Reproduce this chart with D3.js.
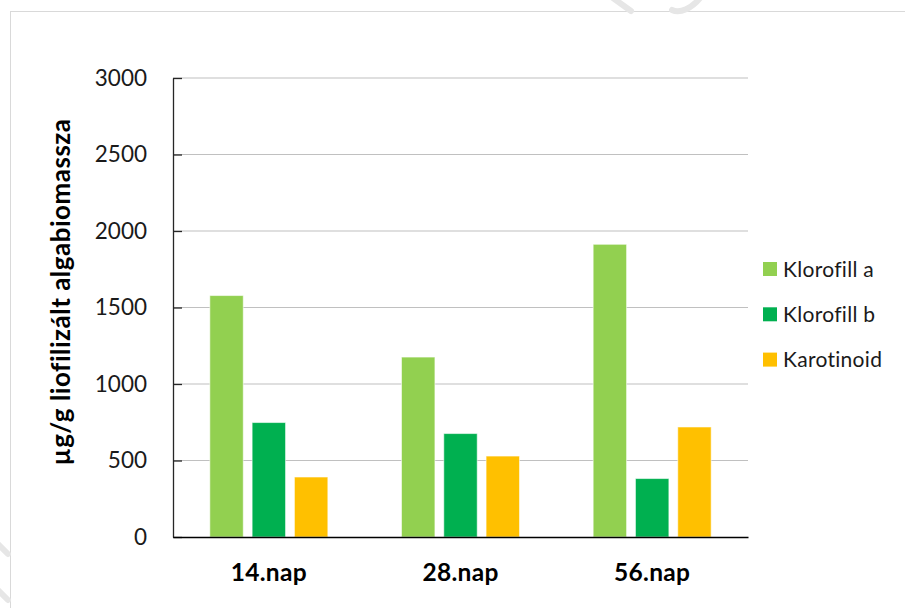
<!DOCTYPE html>
<html>
<head>
<meta charset="utf-8">
<script src="https://cdn.jsdelivr.net/npm/d3@7"></script>
<style>
  html, body { margin: 0; padding: 0; background: #fff; }
  svg { display: block; font-family: Lato, "Open Sans", sans-serif; }
</style>
</head>
<body>
<svg id="chart" width="905" height="608"></svg>
<script>
// Sampling days and pigment content (µg/g freeze-dried algal biomass)
const categories = ["14.nap", "28.nap", "56.nap"];
const seriesNames = ["Klorofill a", "Klorofill b", "Karotinoid"];
const klorofillA = [1578, 1176, 1913];
const klorofillB = [748, 676, 382];
const karotinoid = [392, 529, 719];
const yTicks = [0, 500, 1000, 1500, 2000, 2500, 3000];
const seriesColors = ["#92D050", "#00B050", "#FFC000"];

const seriesValues = [klorofillA, klorofillB, karotinoid];
const rows = categories.map((c, i) => ({
  cat: c,
  vals: seriesNames.map((s, j) => ({ series: s, value: seriesValues[j][i], color: seriesColors[j] }))
}));

const svg = d3.select("#chart");

// outer chart frame
svg.append("rect")
  .attr("x", 10.5).attr("y", 11.5)
  .attr("width", 1000).attr("height", 1000)
  .attr("fill", "none").attr("stroke", "#d9d9d9").attr("stroke-width", 1);

// faint watermark fragments along the edges
const wm = svg.append("g").attr("fill", "none").attr("stroke", "#e6e6e6")
  .attr("stroke-width", 6).attr("stroke-linecap", "round");
wm.append("path").attr("d", "M613,-2 L631,11");
wm.append("path").attr("d", "M672,10 C680,14 692,8 700,-2");
wm.append("path").attr("d", "M-2,544 L8,554");
wm.append("path").attr("d", "M-2,590 L8,600");

const plot = { left: 173, right: 748, top: 78, bottom: 537 };

const x = d3.scaleBand().domain(categories).range([plot.left, plot.right]);
const groupWidth = 118;
const xSub = d3.scaleBand().domain(seriesNames).range([0, groupWidth]).paddingInner(0.21);
const y = d3.scaleLinear().domain([0, 3000]).range([plot.bottom, plot.top]);

// horizontal gridlines
svg.append("g")
  .selectAll("line")
  .data(yTicks.filter(t => t > 0))
  .join("line")
  .attr("x1", plot.left).attr("x2", plot.right)
  .attr("y1", d => y(d)).attr("y2", d => y(d))
  .attr("stroke", "#c0c0c0").attr("stroke-width", 1.2);

// bars
const groups = svg.append("g")
  .selectAll("g")
  .data(rows)
  .join("g")
  .attr("transform", d => `translate(${x(d.cat) + (x.bandwidth() - groupWidth) / 2},0)`);

groups.selectAll("rect")
  .data(d => d.vals)
  .join("rect")
  .attr("x", d => xSub(d.series))
  .attr("width", xSub.bandwidth())
  .attr("y", d => y(d.value))
  .attr("height", d => y(0) - y(d.value))
  .attr("fill", d => d.color)
  .attr("stroke", "#ffffff").attr("stroke-opacity", 0.55).attr("stroke-width", 1);

// y axis: ticks pointing into the plot
const yAxis = d3.axisLeft(y).tickValues(yTicks).tickFormat(d3.format("d"))
  .tickSizeInner(-9).tickSizeOuter(0).tickPadding(26);
const yg = svg.append("g").attr("transform", `translate(${plot.left},0)`).call(yAxis);
yg.select(".domain").attr("stroke", "#262626").attr("stroke-width", 1.3);
yg.selectAll(".tick line").attr("stroke", "#262626").attr("stroke-width", 1.3);
yg.selectAll(".tick text")
  .attr("font-family", "Lato, sans-serif")
  .attr("font-size", 22.5)
  .attr("fill", "#1a1a1a");

// x axis baseline and category labels
const xAxis = d3.axisBottom(x).tickSize(0).tickPadding(27);
const xg = svg.append("g").attr("transform", `translate(0,${plot.bottom})`).call(xAxis);
xg.select(".domain").attr("stroke", "#000").attr("stroke-width", 1.4);
xg.selectAll(".tick text")
  .attr("font-family", "Lato, sans-serif")
  .attr("font-size", 24.5)
  .attr("letter-spacing", 0.3)
  .attr("font-weight", "bold")
  .attr("fill", "#000");

// y axis title
svg.append("text")
  .attr("transform", "translate(70,292) rotate(-90)")
  .attr("text-anchor", "middle")
  .attr("font-size", 26)
  .attr("letter-spacing", 0.5)
  .attr("font-weight", "bold")
  .attr("fill", "#000")
  .text("µg/g liofilizált algabiomassza");

// legend
const legend = svg.append("g")
  .selectAll("g")
  .data(seriesNames)
  .join("g")
  .attr("transform", (d, i) => `translate(763,${262 + i * 45.3})`);
legend.append("rect")
  .attr("width", 14).attr("height", 14)
  .attr("fill", (d, i) => seriesColors[i]);
legend.append("text")
  .attr("x", 20).attr("y", 7)
  .attr("dy", "0.36em")
  .attr("font-size", 21)
  .attr("letter-spacing", 0.3)
  .attr("fill", "#1a1a1a")
  .text(d => d);
</script>
</body>
</html>
